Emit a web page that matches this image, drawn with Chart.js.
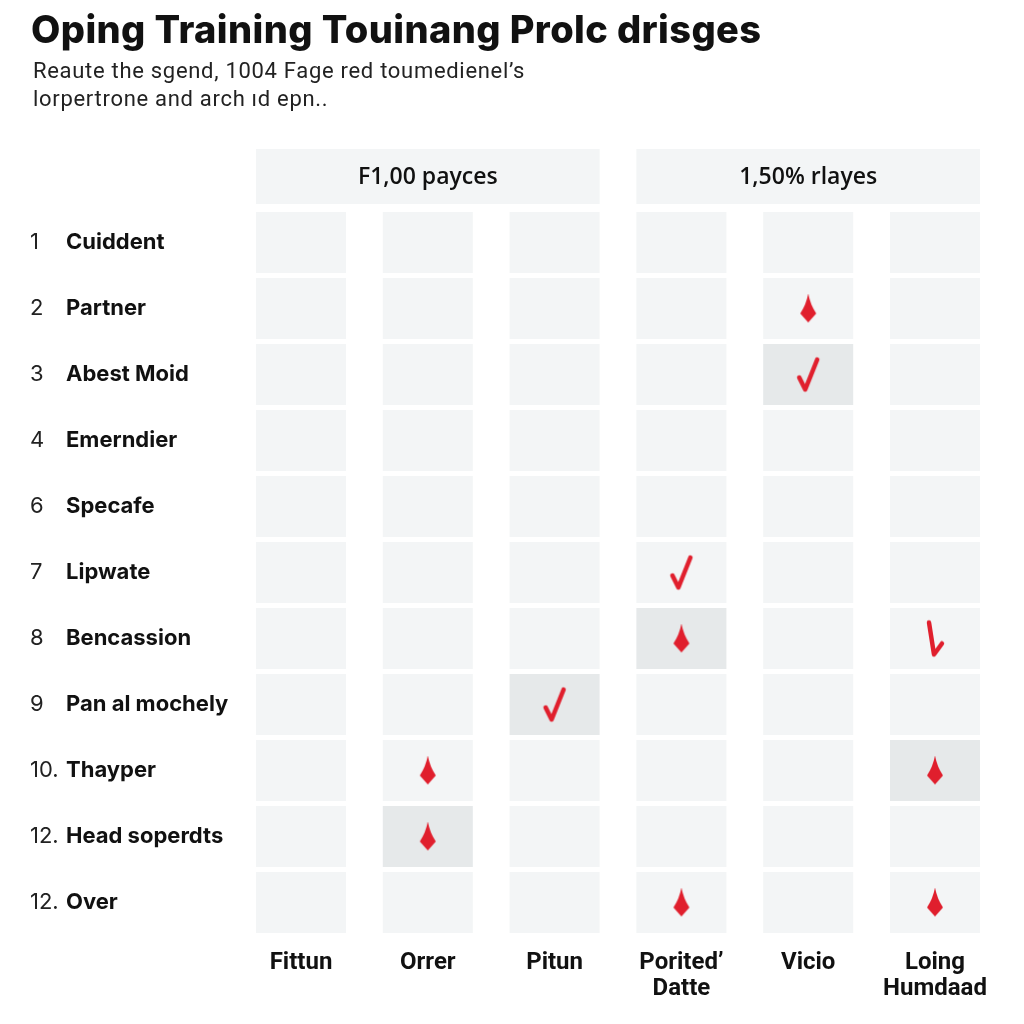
<!DOCTYPE html>
<html>
<head>
<meta charset="utf-8">
<title>Oping Training Touinang Prolc drisges</title>
<script src="https://cdn.jsdelivr.net/npm/chart.js@4.4.1/dist/chart.umd.min.js"></script>
<style>
  body { margin: 0; background: #fff; }
  #wrap { position: relative; width: 1024px; height: 1024px; overflow: hidden; }
  #myChart { position: absolute; left: 0; top: 0; }
  #title { position: absolute; left: 31px; top: 6px; font: 800 38px Inter, sans-serif; letter-spacing: 0.4px; color: #111; white-space: nowrap; }
  #sub { position: absolute; left: 33px; top: 57px; font: 400 22px Roboto, sans-serif; line-height: 28px; letter-spacing: 0.7px; color: #222; white-space: nowrap; }
</style>
</head>
<body>
<div id="wrap">
  <canvas id="myChart" width="1024" height="1024"></canvas>
  <div id="title">Oping Training Touinang Prolc drisges</div>
  <div id="sub">Reaute the sgend, 1004 Fage red toumedienel’s<br>lorpertrone and arch ıd epn..</div>
</div>
<script>
// rows, top to bottom
const rowNums = ['1', '2', '3', '4', '6', '7', '8', '9', '10.', '12.', '12.']
const rowNames = ['Cuiddent', 'Partner', 'Abest Moid', 'Emerndier', 'Specafe', 'Lipwate',
  'Bencassion', 'Pan al mochely', 'Thayper', 'Head soperdts', 'Over']

// columns, left to right
const columnLabels = ['Fittun', 'Orrer', 'Pitun', ['Porited’', 'Datte'], 'Vicio', ['Loing', 'Humdaad']]

// header boxes over groups of columns [first col, last col]
const groupHeaders = [
  { label: 'F1,00 payces', from: 0, to: 2 },
  { label: '1,50% rlayes', from: 3, to: 5 }
]

// [column index, row number]
const shadedCells = [[4, 3], [3, 7], [2, 8], [5, 9], [1, 10]]
const checkMarks = [[4, 3], [3, 6], [2, 8]]
const diamondMarks = [[4, 2], [3, 7], [1, 9], [5, 9], [1, 10], [3, 11], [5, 11]]
const tickMarks = [[5, 7]]

const cellColor = '#f3f5f6'
const shadeColor = '#e6e9ea'
const red = '#e01f2d'

function isShaded(c, r) {
  return shadedCells.some(s => s[0] === c && s[1] === r)
}

function makeCanvas(w, h, draw) {
  const cv = document.createElement('canvas')
  cv.width = w
  cv.height = h
  const g = cv.getContext('2d')
  draw(g)
  return cv
}

const diamondImg = makeCanvas(18, 30, g => {
  g.fillStyle = red
  g.beginPath()
  g.moveTo(9, 0)
  g.quadraticCurveTo(11, 11, 17, 20)
  g.lineTo(9, 29)
  g.lineTo(1, 20)
  g.quadraticCurveTo(7, 11, 9, 0)
  g.fill()
})

const checkImg = makeCanvas(28, 40, g => {
  g.strokeStyle = red
  g.lineWidth = 4.5
  g.lineCap = 'round'
  g.lineJoin = 'round'
  g.beginPath()
  g.moveTo(5, 23)
  g.lineTo(11, 35)
  g.lineTo(23, 5)
  g.stroke()
})

const tickImg = makeCanvas(26, 40, g => {
  g.strokeStyle = red
  g.lineWidth = 4.5
  g.lineCap = 'round'
  g.lineJoin = 'round'
  g.beginPath()
  g.moveTo(7, 4)
  g.lineTo(12, 36)
  g.lineTo(20, 25)
  g.stroke()
})

// one bar dataset per row, bars float over the row band
let datasets = rowNames.map((name, i) => {
  const r = i + 1
  return {
    type: 'bar',
    label: name,
    order: 2,
    data: columnLabels.map(() => [r - 0.462, r + 0.462]),
    backgroundColor: columnLabels.map((c, ci) => isShaded(ci, r) ? shadeColor : cellColor),
    borderWidth: 0,
    grouped: false,
    barPercentage: 0.71,
    categoryPercentage: 1,
    xAxisID: 'x',
    yAxisID: 'y'
  }
})

function markSet(name, list, img) {
  return {
    type: 'line',
    label: name,
    order: 0,
    data: list.map(m => ({ x: m[0], y: m[1] })),
    showLine: false,
    pointStyle: img,
    pointRadius: 10,
    pointHoverRadius: 10,
    xAxisID: 'xm',
    yAxisID: 'y'
  }
}
datasets.push(markSet('check', checkMarks, checkImg))
datasets.push(markSet('diamond', diamondMarks, diamondImg))
datasets.push(markSet('tick', tickMarks, tickImg))

const headerPlugin = {
  id: 'groupHeaders',
  beforeDatasetsDraw(chart) {
    const ctx = chart.ctx
    const xs = chart.scales.x
    const ys = chart.scales.y
    const bar = chart.getDatasetMeta(0).data[0]
    const half = bar.width / 2
    const top = ys.getPixelForValue(-0.417)
    const bottom = ys.getPixelForValue(0.417)
    ctx.save()
    groupHeaders.forEach(h => {
      const x1 = xs.getPixelForValue(h.from) - half
      const x2 = xs.getPixelForValue(h.to) + half
      ctx.fillStyle = cellColor
      ctx.fillRect(x1, top, x2 - x1, bottom - top)
      ctx.fillStyle = '#111'
      ctx.font = '600 23px "Open Sans"'
      ctx.textAlign = 'center'
      ctx.textBaseline = 'middle'
      ctx.fillText(h.label, (x1 + x2) / 2, (top + bottom) / 2 + 1)
    })
    ctx.restore()
  }
}

function rowTicks(scale) {
  scale.ticks = rowNames.map((n, i) => ({ value: i + 1 }))
}

const ctx = document.getElementById('myChart')
new Chart(ctx, {
  type: 'bar',
  data: {
    labels: columnLabels,
    datasets: datasets
  },
  options: {
    responsive: false,
    animation: false,
    layout: { padding: { top: 140.2, left: 30, right: 25.6, bottom: 0 } },
    plugins: {
      legend: { display: false },
      tooltip: { enabled: false }
    },
    scales: {
      x: {
        type: 'category',
        offset: true,
        grid: { display: false, drawTicks: false },
        border: { display: false },
        ticks: {
          color: '#111',
          font: { family: 'Roboto', size: 24, weight: 'bold', lineHeight: 1.05 },
          padding: 12,
          maxRotation: 0,
          autoSkip: false
        },
        afterFit(s) { s.height = 85.2 }
      },
      xm: {
        type: 'linear',
        offset: false,
        min: -0.5,
        max: 5.5,
        display: false
      },
      y: {
        type: 'linear',
        position: 'left',
        weight: 0,
        reverse: true,
        min: -0.55,
        max: 11.55,
        grid: { display: false, drawTicks: false },
        border: { display: false },
        afterBuildTicks: rowTicks,
        ticks: {
          crossAlign: 'far',
          padding: 0,
          color: '#111',
          font: { family: 'Inter', size: 22, weight: 'bold' },
          callback: (v, i) => rowNames[i]
        },
        afterFit(s) { s.width = 171.6 }
      },
      yNum: {
        type: 'linear',
        position: 'left',
        weight: 1,
        reverse: true,
        min: -0.55,
        max: 11.55,
        grid: { display: false, drawTicks: false },
        border: { display: false },
        afterBuildTicks: rowTicks,
        ticks: {
          crossAlign: 'far',
          padding: 0,
          color: '#222',
          font: { family: 'Inter', size: 22, weight: 'normal' },
          callback: (v, i) => rowNums[i]
        },
        afterFit(s) { s.width = 36 }
      }
    }
  },
  plugins: [headerPlugin]
})
</script>
</body>
</html>
